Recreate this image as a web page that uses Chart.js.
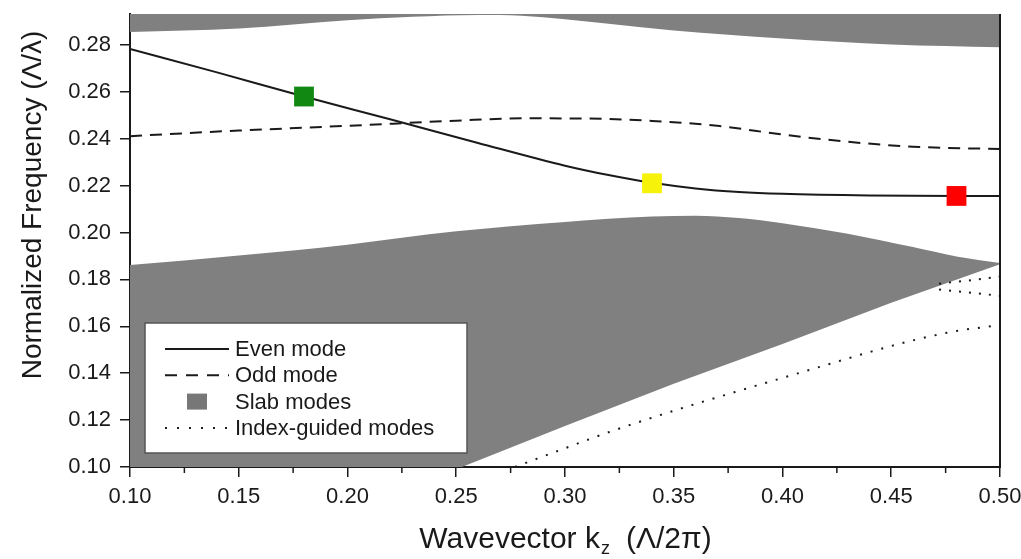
<!DOCTYPE html>
<html>
<head>
<meta charset="utf-8">
<script src="https://cdn.jsdelivr.net/npm/chart.js@4.4.1/dist/chart.umd.min.js"></script>
<style>
  html, body { margin: 0; padding: 0; background: #fff; }
</style>
</head>
<body>
<canvas id="bandChart" width="1021" height="559"></canvas>
<script>
// values
const kEven = [0.10, 0.14, 0.18, 0.22, 0.26, 0.30, 0.32, 0.34, 0.36, 0.38, 0.40, 0.44, 0.48, 0.50];
const freqEven = [0.2783, 0.2683, 0.2580, 0.2482, 0.2382, 0.2285, 0.2245, 0.2212, 0.2188, 0.2173, 0.2165, 0.2158, 0.2156, 0.2156];

const kOdd = [0.10, 0.15, 0.20, 0.25, 0.28, 0.31, 0.34, 0.37, 0.40, 0.43, 0.46, 0.50];
const freqOdd = [0.2411, 0.2435, 0.2455, 0.2477, 0.2487, 0.2486, 0.2476, 0.2455, 0.2418, 0.2387, 0.2366, 0.2356];

// slab modes: upper band (filled up to the top) and lower band (between two edges)
const kSlabHigh = [0.10, 0.15, 0.20, 0.23, 0.26, 0.28, 0.30, 0.32, 0.35, 0.40, 0.45, 0.50];
const freqSlabHigh = [0.2855, 0.2870, 0.2905, 0.2920, 0.2928, 0.2925, 0.2910, 0.2890, 0.2862, 0.2828, 0.2802, 0.2790];

const kSlabLowTop = [0.10, 0.15, 0.20, 0.25, 0.30, 0.34, 0.36, 0.38, 0.40, 0.43, 0.46, 0.48, 0.50];
const freqSlabLowTop = [0.1861, 0.1902, 0.1948, 0.2005, 0.2045, 0.2068, 0.2072, 0.2062, 0.2040, 0.1995, 0.1938, 0.1898, 0.1870];

const kSlabLowBottom = [0.10, 0.2526, 0.30, 0.35, 0.40, 0.45, 0.50];
const freqSlabLowBottom = [0.100, 0.100, 0.1175, 0.1355, 0.1525, 0.1700, 0.1865];

// index-guided modes
const kGuidedA = [0.277, 0.30, 0.32, 0.35, 0.38, 0.40, 0.42, 0.44, 0.46, 0.48, 0.50];
const freqGuidedA = [0.100, 0.108, 0.1148, 0.124, 0.1325, 0.138, 0.1435, 0.149, 0.154, 0.158, 0.1605];
const kGuidedB = [0.472, 0.485, 0.50];
const freqGuidedB = [0.1782, 0.1795, 0.1812];
const kGuidedC = [0.472, 0.485, 0.50];
const freqGuidedC = [0.1757, 0.1745, 0.1730];

// highlighted points on the even mode
const markerK = [0.18, 0.34, 0.48];
const markerFreq = [0.258, 0.221, 0.2156];
const markerColors = ["#118811", "#f7f20a", "#ff0000"];

const xTickValues = [0.10, 0.15, 0.20, 0.25, 0.30, 0.35, 0.40, 0.45, 0.50];
const xTickLabels = ["0.10", "0.15", "0.20", "0.25", "0.30", "0.35", "0.40", "0.45", "0.50"];
const xMinorTicks = [0.125, 0.175, 0.225, 0.275, 0.325, 0.375, 0.425, 0.475];
const yTickValues = [0.10, 0.12, 0.14, 0.16, 0.18, 0.20, 0.22, 0.24, 0.26, 0.28];
const yTickLabels = ["0.10", "0.12", "0.14", "0.16", "0.18", "0.20", "0.22", "0.24", "0.26", "0.28"];

const legendLabels = ["Even mode", "Odd mode", "Slab modes", "Index-guided modes"];

const FONT = "'Liberation Sans', Arial, sans-serif";
const INK = "#1a1a1a";
const SLAB = "#808080";

function toPoints(xs, ys) {
  return xs.map((x, i) => ({ x: x, y: ys[i] }));
}

function lineSet(label, xs, ys, dash) {
  return {
    label: label,
    data: toPoints(xs, ys),
    borderColor: INK,
    borderWidth: 2,
    borderDash: dash,
    pointRadius: 0,
    fill: false,
    cubicInterpolationMode: "monotone",
    order: 2,
  };
}

const datasets = [
  lineSet("Even mode", kEven, freqEven, []),
  lineSet("Odd mode", kOdd, freqOdd, [12, 8]),
  lineSet("Index-guided modes", kGuidedA, freqGuidedA, [2, 9]),
  lineSet("Index-guided modes", kGuidedB, freqGuidedB, [2, 8]),
  lineSet("Index-guided modes", kGuidedC, freqGuidedC, [2, 8]),
  {
    label: "markers",
    data: toPoints(markerK, markerFreq),
    showLine: false,
    pointStyle: "rect",
    pointRadius: 14,
    pointBorderWidth: 0,
    pointBackgroundColor: markerColors,
    pointBorderColor: markerColors,
    order: 1,
  },
  {
    label: "slab low bottom",
    data: toPoints(kSlabLowBottom, freqSlabLowBottom),
    borderColor: "rgba(0,0,0,0)",
    borderWidth: 1,
    pointRadius: 0,
    fill: false,
    tension: 0,
    order: 10,
  },
  {
    label: "Slab modes",
    data: toPoints(kSlabLowTop, freqSlabLowTop),
    borderColor: "rgba(0,0,0,0)",
    borderWidth: 1,
    backgroundColor: SLAB,
    pointRadius: 0,
    fill: "-1",
    cubicInterpolationMode: "monotone",
    order: 10,
  },
  {
    label: "slab high",
    data: toPoints(kSlabHigh, freqSlabHigh),
    borderColor: "rgba(0,0,0,0)",
    borderWidth: 1,
    backgroundColor: SLAB,
    pointRadius: 0,
    fill: "end",
    cubicInterpolationMode: "monotone",
    order: 10,
  },
];

// frame, minor ticks, legend box and axis titles
const decorPlugin = {
  id: "decor",
  afterDraw(chart) {
    const { ctx, chartArea: a, scales: { x } } = chart;
    ctx.save();

    ctx.strokeStyle = INK;
    ctx.lineWidth = 2;
    ctx.beginPath();
    ctx.moveTo(a.right, a.top);
    ctx.lineTo(a.right, a.bottom + 1);
    ctx.stroke();

    ctx.lineWidth = 1.5;
    xMinorTicks.forEach((v) => {
      const px = x.getPixelForValue(v);
      ctx.beginPath();
      ctx.moveTo(px, a.bottom);
      ctx.lineTo(px, a.bottom + 6);
      ctx.stroke();
    });

    // legend
    const bx = a.left + 15, by = 323, bw = 322, bh = 130;
    ctx.fillStyle = "#fff";
    ctx.fillRect(bx, by, bw, bh);
    ctx.strokeStyle = "#555";
    ctx.lineWidth = 1.5;
    ctx.strokeRect(bx, by, bw, bh);

    const dashes = [[], [12, 9], null, [2, 10]];
    ctx.font = "22px " + FONT;
    ctx.textBaseline = "middle";
    ctx.textAlign = "left";
    legendLabels.forEach((label, i) => {
      const ry = by + 26 + i * 26.3;
      if (dashes[i]) {
        ctx.strokeStyle = INK;
        ctx.lineWidth = 2;
        ctx.setLineDash(dashes[i]);
        ctx.beginPath();
        ctx.moveTo(bx + 20, ry);
        ctx.lineTo(bx + 84, ry);
        ctx.stroke();
        ctx.setLineDash([]);
      } else {
        ctx.fillStyle = "#777";
        ctx.fillRect(bx + 42, ry - 8, 20, 16);
      }
      ctx.fillStyle = INK;
      ctx.fillText(label, bx + 90, ry + 1);
    });

    // y title
    ctx.save();
    ctx.translate(33, 205);
    ctx.rotate(-Math.PI / 2);
    ctx.textAlign = "center";
    ctx.textBaseline = "middle";
    ctx.font = "28px " + FONT;
    ctx.fillText("Normalized Frequency (\u039B/\u03BB)", 0, 0);
    ctx.restore();

    // x title with subscript z
    const partA = "Wavevector k", partB = "z", partC = "(\u039B/2\u03C0)";
    ctx.textBaseline = "alphabetic";
    ctx.font = "30px " + FONT;
    const wA = ctx.measureText(partA).width;
    const wC = ctx.measureText(partC).width;
    ctx.font = "18px " + FONT;
    const wB = ctx.measureText(partB).width;
    const gap = 16;
    let tx = (a.left + a.right) / 2 - (wA + wB + gap + wC) / 2;
    const base = 548;
    ctx.font = "30px " + FONT;
    ctx.fillText(partA, tx, base);
    tx += wA + 1;
    ctx.font = "18px " + FONT;
    ctx.fillText(partB, tx, base + 6);
    tx += wB + gap;
    ctx.font = "30px " + FONT;
    ctx.fillText(partC, tx, base);

    ctx.restore();
  },
};

function axisOptions(min, max, values, labels, size, pad) {
  return {
    type: "linear",
    min: min,
    max: max,
    afterBuildTicks: (scale) => {
      scale.ticks = values.map((v) => ({ value: v }));
    },
    afterFit: (s) => {
      size(s);
      s.paddingTop = 0;
      s.paddingBottom = 0;
      s.paddingLeft = 0;
      s.paddingRight = 0;
    },
    grid: {
      drawOnChartArea: false,
      drawTicks: true,
      tickLength: 10,
      color: INK,
      lineWidth: 1.5,
    },
    border: { display: true, color: INK, width: 2 },
    ticks: {
      autoSkip: false,
      maxRotation: 0,
      padding: pad,
      color: INK,
      font: { family: FONT, size: 22, lineHeight: 0.8 },
      callback: (v) => labels[values.findIndex((t) => Math.abs(t - v) < 1e-6)],
    },
  };
}

new Chart(document.getElementById("bandChart").getContext("2d"), {
  type: "line",
  data: { datasets: datasets },
  options: {
    responsive: false,
    animation: false,
    events: [],
    layout: { padding: { top: 10, right: 21, left: 0, bottom: 0 } },
    plugins: {
      legend: { display: false },
      tooltip: { enabled: false },
    },
    scales: {
      x: axisOptions(0.10, 0.50, xTickValues, xTickLabels, (s) => { s.height = 92; }, 11),
      y: axisOptions(0.10, 0.2932, yTickValues, yTickLabels, (s) => { s.width = 130; }, 9),
    },
  },
  plugins: [decorPlugin],
});
</script>
</body>
</html>
